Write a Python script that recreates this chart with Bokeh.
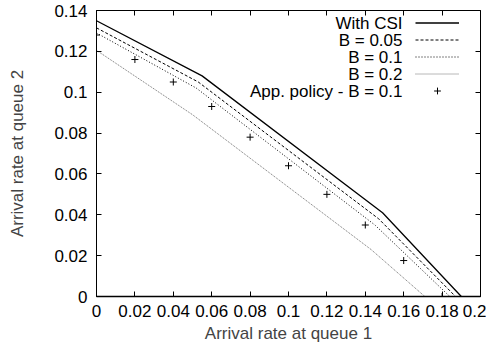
from bokeh.plotting import figure
from bokeh.models import Range1d, FixedTicker, LinearAxis, Legend, LegendItem, Label
from bokeh.core.properties import value
from bokeh.embed import file_html
from bokeh.resources import INLINE

# ---- data ----
x_ticks = [0, 0.02, 0.04, 0.06, 0.08, 0.1, 0.12, 0.14, 0.16, 0.18, 0.2]
x_tick_labels = ["0", "0.02", "0.04", "0.06", "0.08", "0.1", "0.12", "0.14", "0.16", "0.18", "0.2"]
y_ticks = [0, 0.02, 0.04, 0.06, 0.08, 0.1, 0.12, 0.14]
y_tick_labels = ["0", "0.02", "0.04", "0.06", "0.08", "0.1", "0.12", "0.14"]

csi_x = [0, 0.055, 0.149, 0.190]
csi_y = [0.135, 0.108, 0.041, 0.0]
b005_x = [0, 0.053, 0.147, 0.187]
b005_y = [0.1315, 0.105, 0.038, 0.0]
b01_x = [0, 0.052, 0.145, 0.184]
b01_y = [0.129, 0.102, 0.035, 0.0]
b02_x = [0, 0.05, 0.143, 0.171]
b02_y = [0.1205, 0.089, 0.023, 0.0]
app_x = [0, 0.02, 0.04, 0.06, 0.08, 0.1, 0.12, 0.14, 0.16, 0.18]
app_y = [0.128, 0.116, 0.105, 0.093, 0.078, 0.064, 0.050, 0.035, 0.0176, 0.0]

series_names = ["With CSI", "B = 0.05", "B = 0.1", "B = 0.2", "App. policy - B = 0.1"]
x_label = "Arrival rate at queue 1"
y_label = "Arrival rate at queue 2"

FONT = "Liberation Sans"
FS = "17px"

p = figure(width=486, height=349, output_backend="svg", toolbar_location=None,
           x_range=Range1d(0, 0.2), y_range=Range1d(0, 0.14),
           min_border_left=96, min_border_right=6, min_border_top=10, min_border_bottom=53,
           background_fill_color="white", border_fill_color="white")
p.grid.visible = False
p.outline_line_color = "black"
p.outline_line_width = 1

def style_axis(ax, ticks, labels, show_labels=True):
    ax.ticker = FixedTicker(ticks=ticks)
    ax.major_label_overrides = {t: l for t, l in zip(ticks, labels)}
    ax.major_tick_in = 5
    ax.major_tick_out = 0
    ax.minor_tick_in = 0
    ax.minor_tick_out = 0
    ax.major_tick_line_color = "black"
    ax.major_label_text_font = FONT
    if show_labels:
        ax.major_label_text_color = "black"
        ax.major_label_text_font_size = FS
    else:
        ax.major_label_text_color = None
        ax.major_label_text_font_size = "1px"
        ax.major_label_standoff = 0
        ax.axis_line_color = None

xa = p.xaxis[0]
style_axis(xa, x_ticks, x_tick_labels)
xa.major_label_standoff = 8
xa.axis_label = x_label
xa.axis_label_text_font = FONT
xa.axis_label_text_font_size = FS
xa.axis_label_text_font_style = "normal"
xa.axis_label_standoff = 4
xa.axis_line_width = 1.6

ya = p.yaxis[0]
style_axis(ya, y_ticks, y_tick_labels)
ya.major_label_standoff = 9
ya.axis_label = y_label
ya.axis_label_text_font = FONT
ya.axis_label_text_font_size = FS
ya.axis_label_text_font_style = "normal"
ya.axis_label_standoff = 24

top = LinearAxis()
style_axis(top, x_ticks, x_tick_labels, show_labels=False)
p.add_layout(top, "above")
right = LinearAxis()
style_axis(right, y_ticks, y_tick_labels, show_labels=False)
p.add_layout(right, "right")

r_csi = p.line(csi_x, csi_y, line_color="black", line_width=1.3)
r_b005 = p.line(b005_x, b005_y, line_color="black", line_width=1, line_dash="3 2")
r_b01 = p.line(b01_x, b01_y, line_color="black", line_width=1, line_dash="1 2")
r_b02 = p.line(b02_x, b02_y, line_color="#707070", line_width=1, line_dash="1 1")
r_app = p.scatter(app_x, app_y, marker="cross", size=7, line_color="black", line_width=1)

renderers = [r_csi, r_b005, r_b01, r_b02, r_app]
legend = Legend(items=[LegendItem(label=value(" "), renderers=[r]) for r in renderers],
                location=(319, 197), padding=0, margin=0, spacing=0,
                glyph_width=44, glyph_height=17, label_height=17, label_width=0,
                label_standoff=0, label_text_font_size="8px", label_text_color=None,
                border_line_color=None, background_fill_alpha=0)
p.add_layout(legend, "center")

for k, name in enumerate(series_names):
    p.add_layout(Label(x=306, y=273.3 - 17 * k, x_units="screen", y_units="screen",
                       text=name, text_align="right", text_baseline="middle",
                       text_font=FONT, text_font_size=FS, text_color="black"))

open("out.html", "w").write(file_html(p, INLINE))
